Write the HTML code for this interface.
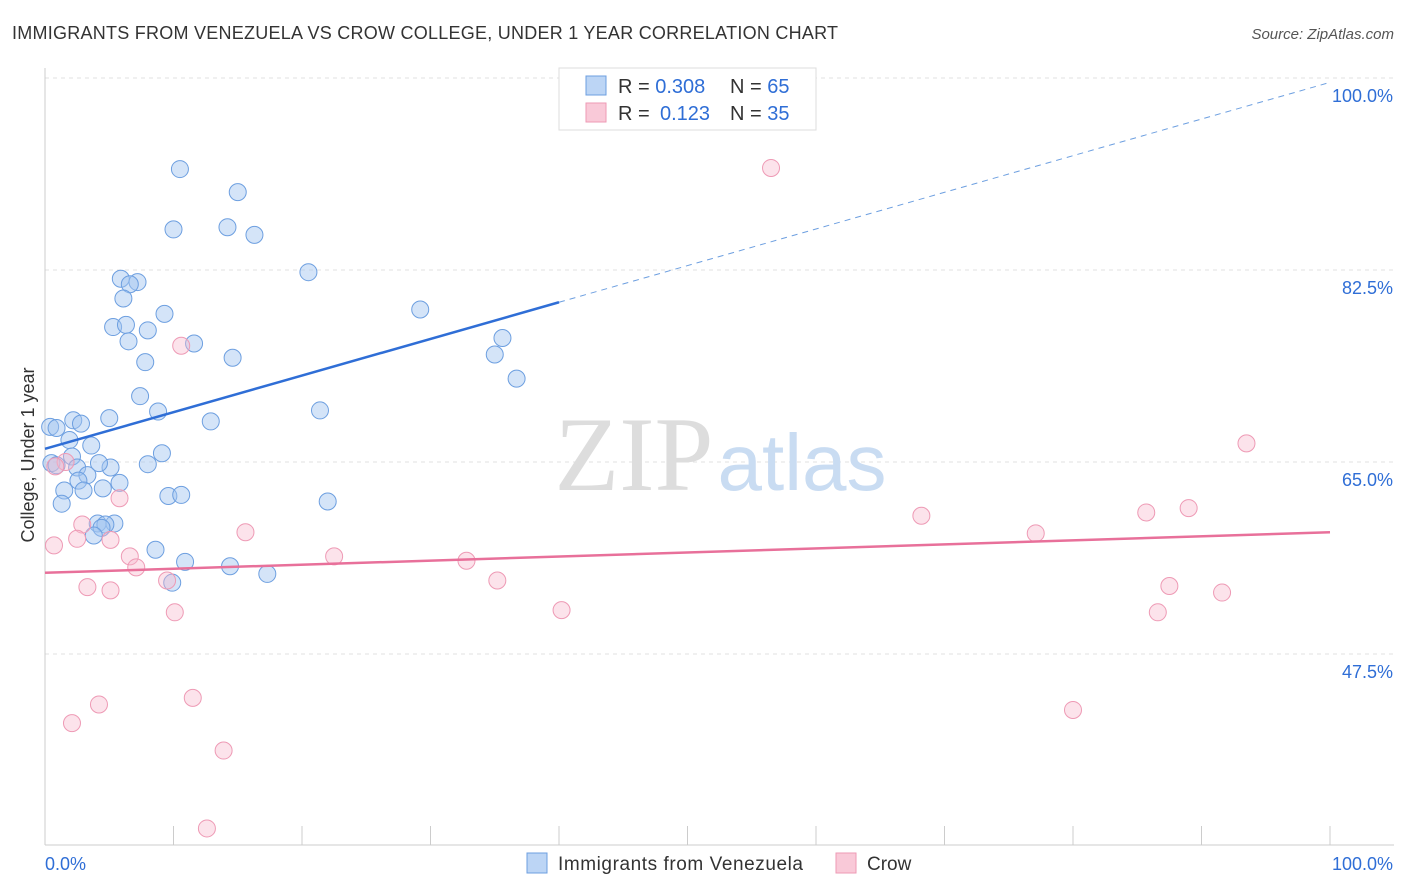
<!DOCTYPE html>
<html><head><meta charset="utf-8">
<style>
body{margin:0;background:#fff;font-family:"Liberation Sans",sans-serif;}
svg{display:block}
</style></head>
<body>
<svg id="chart" width="1406" height="892">
<text x="12" y="39" font-size="18" fill="#333" textLength="826">IMMIGRANTS FROM VENEZUELA VS CROW COLLEGE, UNDER 1 YEAR CORRELATION CHART</text>
<text x="1394" y="39" font-size="15" fill="#555" font-style="italic" text-anchor="end">Source: ZipAtlas.com</text>
<g id="grid"></g>
<text x="634" y="490" font-size="106" fill="#ddd" font-family="Liberation Serif,serif" text-anchor="middle">ZIP</text>
<text x="802" y="490" font-size="80" fill="#c9dcf2" text-anchor="middle">atlas</text>
<g id="axes"></g>
<g id="marks"></g>
<text x="34" y="455" font-size="18" fill="#333" transform="rotate(-90 34 455)" text-anchor="middle">College, Under 1 year</text>
<g>
<rect x="559" y="68" width="257" height="62" fill="#fff" stroke="#ddd"/>
<rect x="586" y="76" width="20" height="19" fill="#bcd5f5" stroke="#6d9fe0"/>
<rect x="586" y="103" width="20" height="19" fill="#f9c9d8" stroke="#ee9ab5"/>
<text x="618" y="93" font-size="20" fill="#333">R = <tspan fill="#2f6ed6">0.308</tspan></text>
<text x="730" y="93" font-size="20" fill="#333">N = <tspan fill="#2f6ed6">65</tspan></text>
<text x="618" y="120" font-size="20" fill="#333">R =</text>
<text x="660" y="120" font-size="20" fill="#2f6ed6">0.123</text>
<text x="730" y="120" font-size="20" fill="#333">N = <tspan fill="#2f6ed6">35</tspan></text>
</g>
<g>
<rect x="527" y="853" width="20" height="20" fill="#bcd5f5" stroke="#6d9fe0"/>
<text x="558" y="870" font-size="19" fill="#333" textLength="245">Immigrants from Venezuela</text>
<rect x="836" y="853" width="20" height="20" fill="#f9c9d8" stroke="#ee9ab5"/>
<text x="867" y="870" font-size="19" fill="#333">Crow</text>
</g>
</svg>
<script>
const yTicks=[47.5,65.0,82.5,100.0];
const blueX=[10.5,15.0,10.0,14.2,16.3,20.5,5.9,7.2,6.6,6.1,9.3,29.2,5.3,6.3,8.0,6.5,11.6,14.6,7.8,35.6,35.0,36.7,7.4,8.8,21.4,12.9,5.0,2.2,2.8,0.4,0.9,1.9,3.6,9.1,2.1,8.0,0.5,0.9,2.5,5.1,3.3,4.2,2.6,5.8,4.5,1.5,3.0,9.6,10.6,22.0,1.3,4.1,5.4,4.7,4.4,3.8,8.6,10.9,14.4,17.3,9.9];
const blueY=[91.7,89.6,86.2,86.4,85.7,82.3,81.7,81.4,81.2,79.9,78.5,78.9,77.3,77.5,77.0,76.0,75.8,74.5,74.1,76.3,74.8,72.6,71.0,69.6,69.7,68.7,69.0,68.8,68.5,68.2,68.1,67.0,66.5,65.8,65.5,64.8,64.9,64.7,64.5,64.5,63.8,64.9,63.3,63.1,62.6,62.4,62.4,61.9,62.0,61.4,61.2,59.4,59.4,59.3,59.0,58.3,57.0,55.9,55.5,54.8,54.0];
const pinkX=[56.5,10.6,93.5,1.6,0.8,5.8,68.2,85.7,89.0,15.6,77.1,2.9,5.1,2.5,0.7,6.6,22.5,32.8,7.1,9.5,35.2,3.3,5.1,10.1,40.2,86.6,87.5,91.6,2.1,4.2,11.5,80.0,13.9,12.6];
const pinkY=[91.8,75.6,66.7,65.0,64.6,61.7,60.1,60.4,60.8,58.6,58.5,59.3,57.9,58.0,57.4,56.4,56.4,56.0,55.4,54.2,54.2,53.6,53.3,51.3,51.5,51.3,53.7,53.1,41.2,42.9,43.5,42.4,38.7,31.6];
const blueTrend=[66.2,99.6];
const pinkTrend=[54.9,58.6];
const NS='http://www.w3.org/2000/svg';
const X=v=>45+v*12.85;
const Y=v=>462-(v-65)*192/17.5;
function mk(t,a,p){const e=document.createElementNS(NS,t);for(const k in a)e.setAttribute(k,a[k]);p.appendChild(e);return e;}
const grid=document.getElementById('grid'),axes=document.getElementById('axes'),marks=document.getElementById('marks');
yTicks.forEach(t=>{
 const l=mk('line',{x1:45,x2:1394,y1:Y(t),y2:Y(t),stroke:'#e2e2e2','stroke-dasharray':'4,4'},grid);
 
 
 const tx=mk('text',{x:1393,y:Y(t)+24,'font-size':18,fill:'#2f6ed6','text-anchor':'end'},axes);
 tx.textContent=t.toFixed(1)+'%';
 
 
});
mk('line',{x1:45,x2:45,y1:68,y2:845,stroke:'#ccc'},axes);
mk('line',{x1:45,x2:1394,y1:845,y2:845,stroke:'#ccc'},axes);
for(let i=0;i<=10;i++){mk('line',{x1:X(i*10),x2:X(i*10),y1:826,y2:845,stroke:'#ccc'},axes);}
const x0=mk('text',{x:45,y:870,'font-size':18,fill:'#2f6ed6'},axes);x0.textContent='0.0%';


const x1=mk('text',{x:1393,y:870,'font-size':18,fill:'#2f6ed6','text-anchor':'end'},axes);x1.textContent='100.0%';


function pts(xs,ys,fill,stroke,name){xs.forEach((x,i)=>{const c=mk('circle',{cx:X(x),cy:Y(ys[i]),r:8.5,fill:fill,stroke:stroke,'stroke-width':1},marks);
 
 });}
pts(blueX,blueY,'rgba(160,196,240,0.45)','#6d9fe0','point-venezuela');
pts(pinkX,pinkY,'rgba(248,185,205,0.4)','#ee9ab5','point-crow');
const bAt=x=>blueTrend[0]+(blueTrend[1]-blueTrend[0])*x/100;
const b1=mk('line',{x1:X(0),y1:Y(bAt(0)),x2:X(40),y2:Y(bAt(40)),stroke:'#2f6ed6','stroke-width':2.5},marks);


const b2=mk('line',{x1:X(40),y1:Y(bAt(40)),x2:X(100),y2:Y(bAt(100)),stroke:'#6d9fe0','stroke-width':1,'stroke-dasharray':'6,5'},marks);


const p1=mk('line',{x1:X(0),y1:Y(pinkTrend[0]),x2:X(100),y2:Y(pinkTrend[1]),stroke:'#e8709a','stroke-width':2.5},marks);


</script>
</body></html>
